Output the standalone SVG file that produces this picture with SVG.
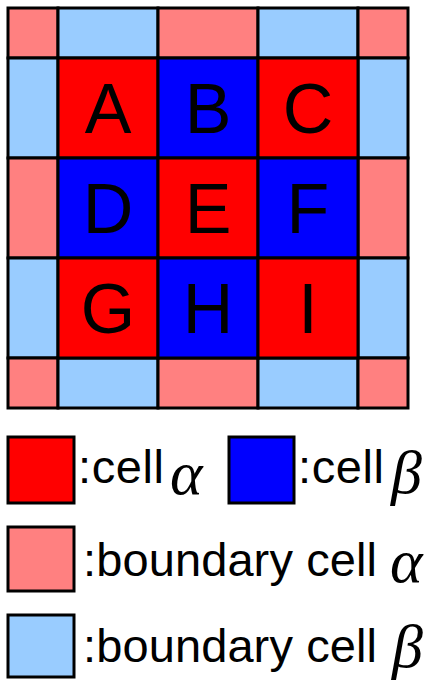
<svg xmlns="http://www.w3.org/2000/svg" width="424" height="680" viewBox="0 0 424 680">
<style>
rect{stroke:#000;stroke-width:3}
.r{fill:#FF0000}.b{fill:#0000FF}.p{fill:#FF8080}.l{fill:#99CCFF}
.t{font-family:"Liberation Sans",Arial,sans-serif;font-size:70px;text-anchor:middle;fill:#000}
.lg{font-family:"Liberation Sans",Arial,sans-serif;font-size:47px;fill:#000}
.g{font-family:"Liberation Serif","Times New Roman",serif;font-style:italic;font-size:62px;fill:#000}
</style>
<rect width="424" height="680" fill="#fff" style="stroke:none"/>
<g id="boundary">
<rect class="p" x="8" y="8" width="50" height="50"/>
<rect class="l" x="58" y="8" width="100" height="50"/>
<rect class="p" x="158" y="8" width="100" height="50"/>
<rect class="l" x="258" y="8" width="100" height="50"/>
<rect class="p" x="358" y="8" width="50" height="50"/>
<rect class="l" x="8" y="58" width="50" height="100"/>
<rect class="p" x="8" y="158" width="50" height="100"/>
<rect class="l" x="8" y="258" width="50" height="100"/>
<rect class="l" x="358" y="58" width="50" height="100"/>
<rect class="p" x="358" y="158" width="50" height="100"/>
<rect class="l" x="358" y="258" width="50" height="100"/>
<rect class="p" x="8" y="358" width="50" height="50"/>
<rect class="l" x="58" y="358" width="100" height="50"/>
<rect class="p" x="158" y="358" width="100" height="50"/>
<rect class="l" x="258" y="358" width="100" height="50"/>
<rect class="p" x="358" y="358" width="50" height="50"/>
</g>
<g id="cellA"><rect class="r" x="58" y="58" width="100" height="100"/><text class="t" x="108" y="133">A</text></g>
<g id="cellB"><rect class="b" x="158" y="58" width="100" height="100"/><text class="t" x="208" y="133">B</text></g>
<g id="cellC"><rect class="r" x="258" y="58" width="100" height="100"/><text class="t" x="308" y="133">C</text></g>
<g id="cellD"><rect class="b" x="58" y="158" width="100" height="100"/><text class="t" x="108" y="233">D</text></g>
<g id="cellE"><rect class="r" x="158" y="158" width="100" height="100"/><text class="t" x="208" y="233">E</text></g>
<g id="cellF"><rect class="b" x="258" y="158" width="100" height="100"/><text class="t" x="308" y="233">F</text></g>
<g id="cellG"><rect class="r" x="58" y="258" width="100" height="100"/><text class="t" x="108" y="333">G</text></g>
<g id="cellH"><rect class="b" x="158" y="258" width="100" height="100"/><text class="t" x="208" y="333">H</text></g>
<g id="cellI"><rect class="r" x="258" y="258" width="100" height="100"/><text class="t" x="308" y="333">I</text></g>
<g id="legend">
<rect class="r" x="8" y="437" width="66" height="66"/>
<text class="lg" x="78" y="483" textLength="86" lengthAdjust="spacing">:cell</text>
<text class="g" x="170" y="494">α</text>
<rect class="b" x="229" y="437" width="65" height="66"/>
<text class="lg" x="298" y="483" textLength="86" lengthAdjust="spacing">:cell</text>
<text class="g" x="391" y="493">β</text>
<rect class="p" x="8" y="527" width="66" height="64"/>
<text class="lg" x="83" y="576" textLength="294" lengthAdjust="spacing">:boundary cell</text>
<text class="g" x="390" y="582">α</text>
<rect class="l" x="8" y="615" width="66" height="62"/>
<text class="lg" x="83" y="662" textLength="294" lengthAdjust="spacing">:boundary cell</text>
<text class="g" x="392" y="667">β</text>
</g>
</svg>
